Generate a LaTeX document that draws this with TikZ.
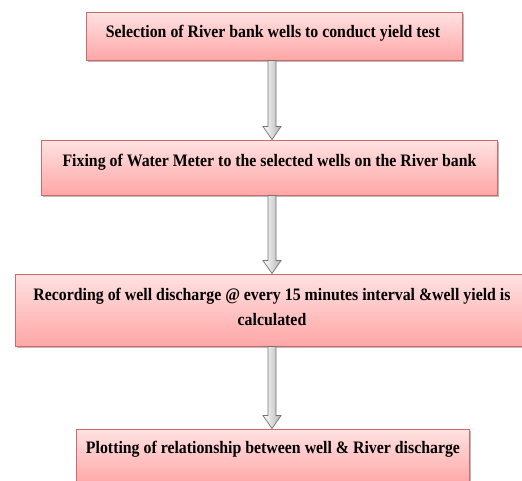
\documentclass[tikz,border=0pt]{standalone}
\usepackage{fontspec}
\setmainfont{Liberation Serif}[FakeStretch=0.905]
\usetikzlibrary{calc,shadows}
\definecolor{boxedge}{HTML}{D06A6A}
\definecolor{boxtop}{HTML}{FFE2E2}
\definecolor{boxbot}{HTML}{FFA6A6}
\tikzset{
  box/.style={draw=boxedge, line width=0.9pt, top color=boxtop, bottom color=boxbot,
    minimum width=#1, inner sep=0pt,
    drop shadow={shadow xshift=1.8pt, shadow yshift=-2pt, fill=black!45, opacity=0.6}},
  lbl/.style={anchor=base, inner sep=0pt, font=\fontsize{17.5}{25}\selectfont\bfseries, align=center, text=black},
  blockarrow/.style={draw=black!55, line width=0.7pt, left color=white, right color=black!30, line join=miter},
}
\begin{document}
\begin{tikzpicture}[x=1pt,y=-1pt]
\useasboundingbox (0,0) rectangle (522,480);
\coordinate (ax) at (272,0);
\node[box=376pt, minimum height=48pt] (b1) at (274,36) {};
\node[box=456pt, minimum height=55pt] (b2) at (269,167.5) {};
\node[box=509pt, minimum height=72pt] (b3) at (269.5,310) {};
\node[box=393pt, minimum height=55pt] (b4) at (272.5,456.5) {};
\node[lbl] (t1) at (273,37) {Selection of River bank wells to conduct yield test};
\node[lbl] (t2) at (269.5,166) {Fixing of Water Meter to the selected wells on the River bank};
\node[lbl] (t3) at (272,325) {Recording of well discharge @ every 15 minutes interval \&well yield is\\calculated};
\node[lbl] (t4) at (273,453) {Plotting of relationship between well \& River discharge};
\foreach \a/\b in {b1/b2,b2/b3,b3/b4}{
  \path[blockarrow] let \p1=(\a.south -| ax), \p2=(\b.north -| ax) in
    (\x1-4pt,\y1) -- (\x1-4pt,\y2+13pt) -- (\x1-9pt,\y2+13pt) -- (\x1,\y2)
    -- (\x1+9pt,\y2+13pt) -- (\x1+4pt,\y2+13pt) -- (\x1+4pt,\y1) -- cycle;
}
\end{tikzpicture}
\end{document}
